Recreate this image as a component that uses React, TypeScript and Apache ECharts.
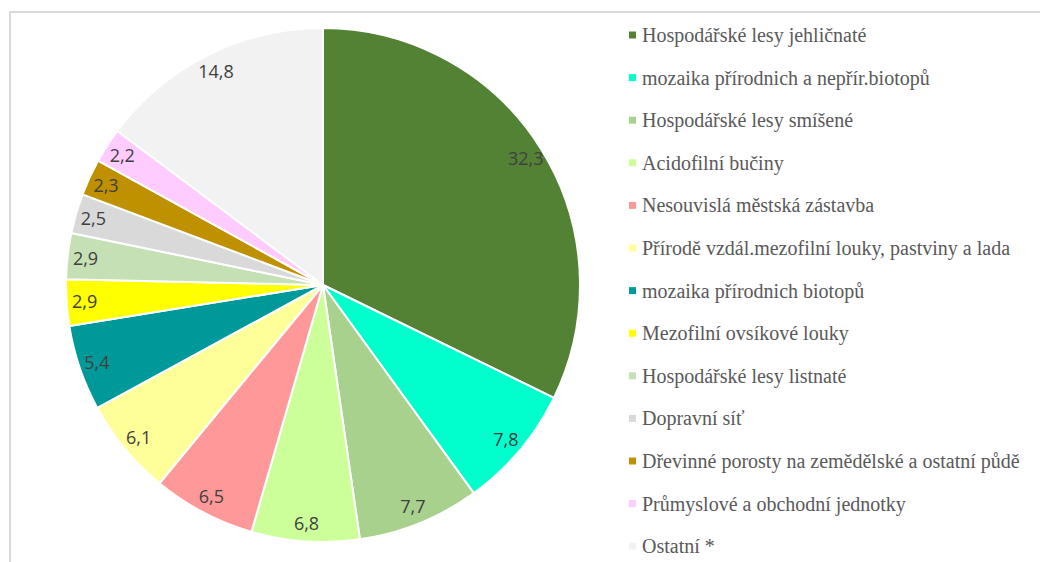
import React, { useEffect, useRef } from "react";
import * as echarts from "echarts";

const categories = [
  "Hospodářské lesy jehličnaté",
  "mozaika přírodnich a nepřír.biotopů",
  "Hospodářské lesy smíšené",
  "Acidofilní bučiny",
  "Nesouvislá městská zástavba",
  "Přírodě vzdál.mezofilní louky, pastviny a lada",
  "mozaika přírodnich biotopů",
  "Mezofilní ovsíkové louky",
  "Hospodářské lesy listnaté",
  "Dopravní síť",
  "Dřevinné porosty na zemědělské a ostatní půdě",
  "Průmyslové a obchodní jednotky",
  "Ostatní *",
];

const values = [32.3, 7.8, 7.7, 6.8, 6.5, 6.1, 5.4, 2.9, 2.9, 2.5, 2.3, 2.2, 14.8];

const colors = [
  "#548235",
  "#00FFCC",
  "#A9D18E",
  "#CCFF99",
  "#FF9999",
  "#FFFF99",
  "#009999",
  "#FFFF00",
  "#C5E0B4",
  "#D9D9D9",
  "#BF9000",
  "#FFCCFF",
  "#F2F2F2",
];

const SERIF_FONT = "20px 'Liberation Serif', 'Times New Roman', serif";
const LEGEND_LEFT = 629;
const LEGEND_TOP = 35;
const LEGEND_STEP = 42.6;

export default function App() {
  const ref = useRef<HTMLDivElement>(null);
  useEffect(() => {
    if (!ref.current) return;
    const chart = echarts.init(ref.current, undefined, { renderer: "svg" });
    const mainData = categories.map((name, i) => ({
      name,
      value: values[i],
      itemStyle: { color: colors[i] },
    }));
    const labelData = categories.map((name, i) => ({
      name,
      value: values[i],
    }));
    const legendItems: any[] = [];
    categories.forEach((name, i) => {
      const cy = LEGEND_TOP + i * LEGEND_STEP;
      legendItems.push({
        type: "rect",
        shape: { x: LEGEND_LEFT, y: cy - 3.5, width: 7, height: 7 },
        style: { fill: colors[i] },
        silent: true,
      });
      legendItems.push({
        type: "text",
        x: LEGEND_LEFT + 13,
        y: cy,
        style: {
          text: name,
          font: SERIF_FONT,
          fontFamily: "Times New Roman",
          fontSize: 20,
          fill: "#595959",
          verticalAlign: "middle",
          align: "left",
        },
        silent: true,
      });
    });
    chart.setOption({
      animation: false,
      backgroundColor: "#ffffff",
      graphic: [
        {
          type: "rect",
          shape: { x: 10, y: 12, width: 1100, height: 600 },
          style: { fill: "none", stroke: "#d9d9d9", lineWidth: 2 },
          silent: true,
          z: -10,
        },
        ...legendItems,
      ],
      series: [
        {
          type: "pie",
          center: [323, 285],
          radius: [0, 257],
          startAngle: 90,
          clockwise: true,
          data: mainData,
          label: { show: false },
          labelLine: { show: false },
          itemStyle: { borderColor: "#ffffff", borderWidth: 2 },
          emphasis: { disabled: true },
          silent: true,
        },
        {
          type: "pie",
          center: [323, 285],
          radius: [215, 257],
          startAngle: 90,
          clockwise: true,
          data: labelData,
          itemStyle: { color: "transparent", borderWidth: 0 },
          label: {
            show: true,
            position: "inside",
            formatter: (p: any) => String(p.value).replace(".", ","),
            fontFamily: "Open Sans",
            fontSize: 18,
            color: "#404040",
          },
          labelLine: { show: false },
          emphasis: { disabled: true },
          silent: true,
        },
      ],
    });
    return () => chart.dispose();
  }, []);
  return (
    <div
      ref={ref}
      style={{ position: "fixed", left: 0, top: 0, width: 1040, height: 562 }}
    />
  );
}
